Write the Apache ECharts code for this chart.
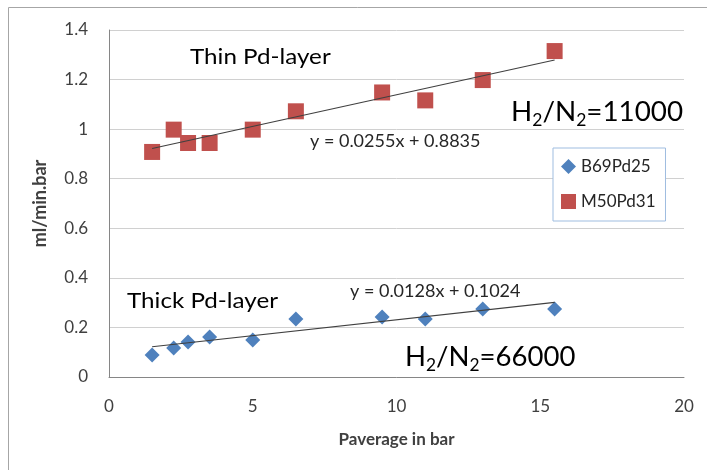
<!DOCTYPE html>
<html>
<head>
<meta charset="utf-8">
<script src="https://cdn.jsdelivr.net/npm/echarts@6/dist/echarts.min.js"></script>
<style>html,body{margin:0;padding:0;background:#fff}#c{width:707px;height:470px}</style>
</head>
<body>
<div id="c"></div>
<script>
// Data
var thinX = [1.5, 2.25, 2.75, 3.5, 5.0, 6.5, 9.5, 11.0, 13.0, 15.5];
var thinY = [0.908, 0.998, 0.944, 0.944, 0.998, 1.072, 1.148, 1.116, 1.198, 1.315];
var thickX = [1.5, 2.25, 2.75, 3.5, 5.0, 6.5, 9.5, 11.0, 13.0, 15.5];
var thickY = [0.089, 0.117, 0.141, 0.161, 0.149, 0.234, 0.242, 0.234, 0.274, 0.274];
// trendline end points (as drawn)
var thinTrendX = [1.5, 15.5];
var thinTrendY = [0.922, 1.279];
var thickTrendX = [1.5, 15.5];
var thickTrendY = [0.122, 0.301];
var xTicks = [0, 5, 10, 15, 20];
var yTicks = [0, 0.2, 0.4, 0.6, 0.8, 1, 1.2, 1.4];

function pairs(xs, ys) { return xs.map(function (x, i) { return [x, ys[i]]; }); }

var FONT = 'Lato, "Open Sans", sans-serif';
var chart = echarts.init(document.getElementById('c'), null, { renderer: 'canvas' });
var diamond = 'path://M0,-1L1,0L0,1L-1,0Z';
var subRich = {
  m: { fontSize: 27, fontFamily: FONT, lineHeight: 34, fill: '#000' },
  s: { fontSize: 17, fontFamily: FONT, lineHeight: 16, verticalAlign: 'bottom', fill: '#000' }
};

chart.setOption({
  animation: false,
  backgroundColor: '#fff',
  textStyle: { fontFamily: FONT },
  grid: { left: 109, right: 23, top: 30, bottom: 93, containLabel: false },
  xAxis: {
    type: 'value', min: 0, max: 20, interval: 5,
    name: 'Paverage in bar', nameLocation: 'middle', nameGap: 54,
    nameTextStyle: { fontFamily: FONT, fontWeight: 'bold', fontSize: 17, color: '#404040' },
    axisLine: { show: true, lineStyle: { color: '#868686', width: 1 } },
    axisTick: { show: false },
    splitLine: { show: false },
    axisLabel: { fontFamily: FONT, fontSize: 17, color: '#404040', margin: 21,
      formatter: function (v) { return xTicks.indexOf(v) >= 0 ? String(v) : ''; } }
  },
  yAxis: {
    type: 'value', min: 0, max: 1.4, interval: 0.2,
    name: 'ml/min.bar', nameLocation: 'middle', nameGap: 60, nameRotate: 90,
    nameTextStyle: { fontFamily: FONT, fontWeight: 'bold', fontSize: 18, color: '#404040' },
    axisLine: { show: true, lineStyle: { color: '#868686', width: 1 } },
    axisTick: { show: false },
    splitLine: { show: true, lineStyle: { color: '#d0d0d0', width: 1 } },
    axisLabel: { fontFamily: FONT, fontSize: 17, color: '#404040', margin: 21,
      formatter: function (v) {
        for (var i = 0; i < yTicks.length; i++) if (Math.abs(yTicks[i] - v) < 1e-6) return String(yTicks[i]);
        return '';
      } }
  },
  legend: {
    show: true, orient: 'vertical', left: 553, top: 148,
    itemGap: 18, itemWidth: 15, itemHeight: 15,
    padding: [10, 10, 11, 8],
    backgroundColor: '#fff', borderColor: '#9fbde0', borderWidth: 1,
    textStyle: { fontFamily: FONT, fontSize: 17, color: '#262626' },
    data: [
      { name: 'B69Pd25', icon: diamond },
      { name: 'M50Pd31', icon: 'rect' }
    ]
  },
  series: [
    {
      name: 'B69Pd25', type: 'scatter', symbol: diamond, symbolSize: 15,
      itemStyle: { color: '#4f81bd', opacity: 1 }, data: pairs(thickX, thickY), z: 3
    },
    {
      name: 'M50Pd31', type: 'scatter', symbol: 'rect', symbolSize: 16,
      itemStyle: { color: '#c0504d', opacity: 1 }, data: pairs(thinX, thinY), z: 3
    },
    {
      name: 'thickTrend', type: 'line', symbol: 'none', silent: true,
      lineStyle: { color: '#404040', width: 1.2 }, data: pairs(thickTrendX, thickTrendY), z: 4
    },
    {
      name: 'thinTrend', type: 'line', symbol: 'none', silent: true,
      lineStyle: { color: '#404040', width: 1.2 }, data: pairs(thinTrendX, thinTrendY), z: 4
    }
  ],
  graphic: [
    { type: 'line', shape: { x1: 8.5, y1: 7.5, x2: 8.5, y2: 470 }, style: { stroke: '#a6a6a6', lineWidth: 1 } },
    { type: 'line', shape: { x1: 8.5, y1: 7.5, x2: 707, y2: 7.5 }, style: { stroke: '#a6a6a6', lineWidth: 1 } },
    { type: 'text', x: 190, y: 46, scaleX: 1.1, style: { text: 'Thin Pd-layer', font: '22px ' + FONT, fill: '#000' } },
    { type: 'text', x: 127, y: 290, scaleX: 1.1, style: { text: 'Thick Pd-layer', font: '22px ' + FONT, fill: '#000' } },
    { type: 'text', x: 310, y: 132, style: { text: 'y = 0.0255x + 0.8835', font: '18px ' + FONT, fill: '#262626' } },
    { type: 'text', x: 350, y: 282, style: { text: 'y = 0.0128x + 0.1024', font: '18px ' + FONT, fill: '#262626' } },
    { type: 'text', x: 511, y: 95, scaleX: 1.03, style: { text: '{m|H}{s|2}{m|/N}{s|2}{m|=11000}', rich: subRich } },
    { type: 'text', x: 405, y: 340, scaleX: 1.02, style: { text: '{m|H}{s|2}{m|/N}{s|2}{m|=66000}', rich: subRich } }
  ]
});
</script>
</body>
</html>
